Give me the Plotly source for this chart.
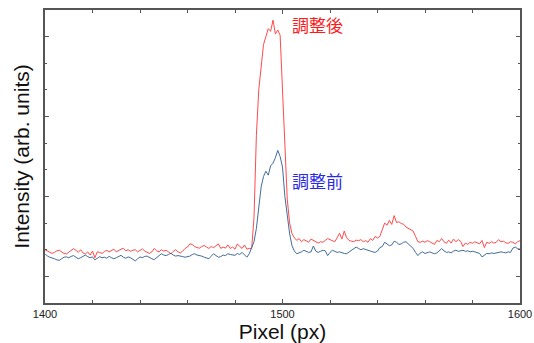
import plotly.graph_objects as go

pixels = list(range(1400, 1601))

after_adjust = [
    2.00, 1.95, 1.88, 1.86, 1.90, 1.96, 1.98, 1.92, 1.86, 1.84,
    1.90, 1.98, 2.04, 1.98, 1.90, 2.00, 1.88, 1.84, 1.92, 1.80,
    1.95, 1.70, 1.92, 1.90, 1.86, 1.93, 1.98, 1.92, 1.96, 2.02,
    1.92, 1.98, 2.02, 2.05, 1.96, 2.00, 1.94, 1.98, 2.00, 1.92,
    1.98, 2.03, 1.95, 1.90, 1.86, 1.92, 2.05, 1.96, 1.92, 2.00,
    1.95, 1.98, 1.90, 1.85, 1.94, 2.00, 1.92, 1.88, 1.95, 2.05,
    2.10, 2.22, 2.20, 2.12, 2.08, 2.06, 2.12, 2.16, 2.10, 2.05,
    2.12, 2.08, 2.15, 2.22, 2.05, 2.10, 2.06, 2.18, 2.05, 2.10,
    2.02, 2.22, 2.12, 2.05, 2.18, 2.02, 2.05, 2.04, 3.20, 6.30,
    8.00, 9.00, 9.70, 10.00, 10.30, 10.20, 10.62, 10.10, 10.25, 10.05,
    7.80, 5.50, 3.90, 3.00, 2.60, 2.45, 2.35, 2.42, 2.30, 2.38,
    2.32, 2.28, 2.40, 2.35, 2.28, 2.25, 2.30, 2.28, 2.35, 2.42,
    2.38, 2.35, 2.30, 2.45, 2.62, 2.40, 2.70, 2.45, 2.35, 2.32,
    2.30, 2.36, 2.34, 2.38, 2.30, 2.34, 2.28, 2.42, 2.35, 2.50,
    2.44, 2.50, 2.78, 3.00, 2.92, 3.10, 2.95, 3.28, 3.02, 3.05,
    2.98, 2.96, 2.85, 2.80, 2.72, 2.70, 2.50, 2.30, 2.28, 2.32,
    2.28, 2.34, 2.30, 2.26, 2.20, 2.35, 2.30, 2.42, 2.30, 2.24,
    2.36, 2.25, 2.40, 2.30, 2.38, 2.32, 2.12, 2.25, 2.20, 2.28,
    2.24, 2.30, 2.26, 2.22, 2.35, 2.08, 2.28, 2.24, 2.30, 2.25,
    2.28, 2.38, 2.30, 2.32, 2.26, 2.24, 2.30, 2.28, 2.22, 2.30,
    2.34,
]

before_adjust = [
    1.85, 1.76, 1.72, 1.70, 1.66, 1.62, 1.60, 1.66, 1.72, 1.73,
    1.70, 1.75, 1.78, 1.72, 1.66, 1.70, 1.76, 1.80, 1.74, 1.70,
    1.73, 1.62, 1.68, 1.74, 1.70, 1.72, 1.68, 1.75, 1.70, 1.66,
    1.70, 1.74, 1.79, 1.72, 1.68, 1.73, 1.70, 1.64, 1.58, 1.66,
    1.73, 1.70, 1.75, 1.76, 1.70, 1.66, 1.63, 1.70, 1.78, 1.85,
    1.80, 1.78, 1.82, 1.87, 1.80, 1.76, 1.78, 1.75, 1.74, 1.72,
    1.73, 1.76, 1.82, 1.85, 1.80, 1.79, 1.76, 1.72, 1.68, 1.66,
    1.76, 1.85, 1.78, 1.72, 1.74, 1.80, 1.78, 1.85, 1.82, 1.80,
    1.79, 1.86, 1.82, 1.90, 1.80, 1.72, 1.85, 2.05, 2.30, 2.80,
    3.70, 4.35, 4.75, 4.95, 4.80, 5.15, 5.25, 5.45, 5.73, 5.50,
    5.10, 4.00, 3.30, 2.60, 2.15, 1.95, 1.85, 1.88, 1.92, 1.98,
    1.94, 1.90, 1.92, 2.14, 1.95, 1.90, 1.94, 1.98, 1.96, 1.78,
    1.90, 1.98, 1.94, 1.90, 1.92, 1.88, 1.86, 1.85, 1.92, 1.98,
    2.04, 2.10, 2.05, 2.00, 2.04, 2.00, 1.98, 1.95, 1.92, 1.90,
    1.95, 2.08, 2.12, 2.28, 2.22, 2.15, 2.18, 2.32, 2.28, 2.20,
    2.22, 2.28, 2.30, 2.22, 2.12, 2.05, 1.90, 1.78, 1.88, 1.92,
    1.86, 1.90, 1.92, 1.88, 1.85, 1.88, 1.95, 2.04, 1.96, 1.90,
    1.92, 1.88, 1.95, 1.98, 1.94, 1.96, 1.98, 1.94, 1.96, 1.92,
    1.94, 1.92, 1.90, 1.86, 1.73, 1.80, 1.86, 1.85, 1.88, 1.86,
    1.88, 1.90, 1.92, 1.90, 1.88, 1.92, 1.90, 2.06, 2.10, 2.04,
    2.02,
]

x_tick_labels = ["1400", "1500", "1600"]
x_tick_values = [1400, 1500, 1600]
label_after = "調整後"
label_before = "調整前"

fig = go.Figure()
fig.add_trace(go.Scatter(x=pixels, y=after_adjust, mode="lines",
                         line=dict(color="#ff4a4a", width=1), name=label_after))
fig.add_trace(go.Scatter(x=pixels, y=before_adjust, mode="lines",
                         line=dict(color="#436c9a", width=1), name=label_before))

cjk = "Noto Sans CJK JP"
fig.add_annotation(x=1497, y=10.45, xref="x", yref="y", text=label_after,
                   showarrow=False, xanchor="left", xshift=15,
                   font=dict(family=cjk, size=17, color="#ff1a1a"))
fig.add_annotation(x=1497, y=4.6, xref="x", yref="y", text=label_before,
                   showarrow=False, xanchor="left", xshift=15,
                   font=dict(family=cjk, size=17, color="#2a2ae8"))

axis_line = "#555555"
fig.update_layout(
    width=534, height=343,
    margin=dict(l=45, r=14, t=10, b=40),
    paper_bgcolor="white", plot_bgcolor="white",
    showlegend=False,
    font=dict(family="Liberation Sans, Arial, sans-serif", color="#111111"),
    xaxis=dict(
        range=[1400, 1600], tickvals=x_tick_values, ticktext=x_tick_labels,
        ticks="inside", ticklen=4, tickcolor=axis_line, tickwidth=1,
        minor=dict(dtick=20, ticks="inside", ticklen=3, tickcolor=axis_line),
        showline=True, linecolor=axis_line, linewidth=1.5, mirror="ticks",
        showgrid=False, zeroline=False, automargin=False,
        tickfont=dict(size=11, color="#222222"),
        title=dict(text="Pixel (px)", font=dict(size=21, color="#111111"), standoff=2),
    ),
    yaxis=dict(
        range=[0, 11], tick0=1, dtick=3,
        ticks="inside", ticklen=4, tickcolor=axis_line, tickwidth=1,
        minor=dict(dtick=1, ticks="inside", ticklen=2, tickcolor=axis_line),
        showticklabels=False,
        showline=True, linecolor=axis_line, linewidth=1.5, mirror="ticks",
        showgrid=False, zeroline=False, automargin=False,
        title=dict(text="Intensity (arb. units)", font=dict(size=21, color="#111111"), standoff=8),
    ),
)

fig.write_html("out.html", config={"displayModeBar": False},
               post_script="document.body.style.margin='0';")
